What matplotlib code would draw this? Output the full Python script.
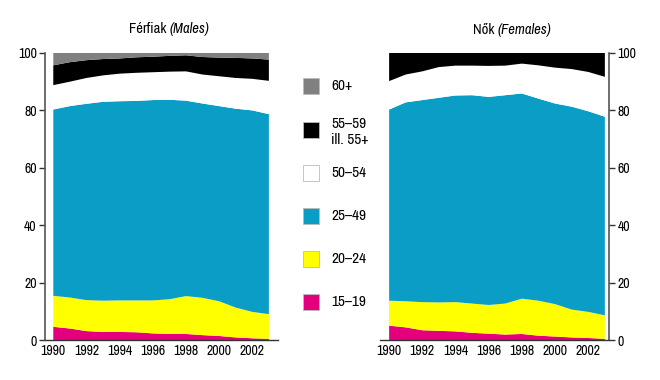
import matplotlib
matplotlib.use("Agg")
import matplotlib.pyplot as plt
from matplotlib import font_manager
from matplotlib.patches import Rectangle

names = {f.name for f in font_manager.fontManager.ttflist}
fam = "DejaVu Sans"
for cand in ["Archivo Narrow", "Roboto Condensed", "PT Sans Narrow", "Fira Sans Condensed",
             "IBM Plex Sans Condensed", "Barlow Semi Condensed", "Pragati Narrow",
             "Liberation Sans Narrow"]:
    if cand in names:
        fam = cand
        break
plt.rcParams["font.family"] = [fam, "DejaVu Sans"]

years = list(range(1990, 2004))

# Males: share of each age group (%)
m_15_19 = [4.6, 4.0, 3.1, 2.8, 2.8, 2.7, 2.3, 2.1, 2.1, 1.7, 1.4, 0.9, 0.6, 0.4]
m_20_24 = [10.8, 10.8, 10.8, 10.9, 11.0, 11.1, 11.5, 12.1, 13.2, 13.0, 12.1, 10.4, 9.2, 8.6]
m_25_49 = [64.9, 66.7, 68.4, 69.3, 69.4, 69.5, 69.8, 69.5, 68.1, 67.7, 68.0, 69.3, 70.2, 69.7]
m_50_54 = [8.5, 8.5, 9.0, 9.2, 9.6, 9.8, 9.7, 9.8, 10.2, 10.1, 10.4, 10.7, 11.0, 11.6]
m_55_59 = [6.9, 6.8, 6.2, 5.7, 5.3, 5.4, 5.4, 5.5, 5.6, 6.1, 6.5, 7.0, 7.1, 7.4]
m_60p = [4.3, 3.2, 2.5, 2.1, 1.9, 1.5, 1.3, 1.0, 0.8, 1.4, 1.6, 1.7, 1.9, 2.3]

# Females: share of each age group (%)
f_15_19 = [5.0, 4.4, 3.4, 3.2, 3.0, 2.5, 2.2, 1.9, 2.1, 1.5, 1.2, 0.9, 0.7, 0.4]
f_20_24 = [8.7, 9.1, 9.8, 9.9, 10.2, 10.2, 10.0, 10.8, 12.3, 12.2, 11.3, 9.7, 9.1, 8.2]
f_25_49 = [66.6, 69.3, 70.4, 71.3, 72.0, 72.6, 72.5, 72.6, 71.5, 70.4, 69.9, 70.7, 69.9, 69.2]
f_50_54 = [9.9, 9.7, 10.0, 10.7, 10.4, 10.3, 10.8, 10.3, 10.4, 11.6, 12.5, 13.1, 13.7, 13.9]
f_55p = [9.8, 7.5, 6.4, 4.9, 4.4, 4.4, 4.5, 4.4, 3.7, 4.3, 5.1, 5.6, 6.6, 8.3]

legend_labels = ["60+", "55–59\nill. 55+", "50–54", "25–49", "20–24", "15–19"]
xticks = [1990, 1992, 1994, 1996, 1998, 2000, 2002]
yticks = [0, 20, 40, 60, 80, 100]

c_pink = "#e4007d"
c_yellow = "#ffff00"
c_blue = "#0a9dc6"
c_white = "#ffffff"
c_black = "#000000"
c_gray = "#808080"
legend_colors = [c_gray, c_black, c_white, c_blue, c_yellow, c_pink]

W, H = 660, 380
fig = plt.figure(figsize=(6.6, 3.8), dpi=100)

def ax_rect(x0, x1, ytop, ybot):
    return [x0 / W, 1 - ybot / H, (x1 - x0) / W, (ybot - ytop) / H]

axL = fig.add_axes(ax_rect(45, 278, 53, 340))
axR = fig.add_axes(ax_rect(380, 609, 53, 340))

axL.stackplot(years, m_15_19, m_20_24, m_25_49, m_50_54, m_55_59, m_60p,
              colors=[c_pink, c_yellow, c_blue, c_white, c_black, c_gray], linewidth=0)
axR.stackplot(years, f_15_19, f_20_24, f_25_49, f_50_54, f_55p,
              colors=[c_pink, c_yellow, c_blue, c_white, c_black], linewidth=0)

axL.set_xlim(1989.5, 2003.55)
axR.set_xlim(1989.45, 2003.25)

for ax, side in ((axL, "left"), (axR, "right")):
    ax.set_ylim(0, 100)
    ax.set_yticks(yticks)
    ax.set_xticks(xticks)
    for s in ax.spines.values():
        s.set_visible(False)
    ax.spines["bottom"].set_visible(True)
    ax.spines[side].set_visible(True)
    ax.spines["bottom"].set_color("#333333")
    ax.spines[side].set_color("#555555")
    ax.spines["bottom"].set_linewidth(1.0)
    ax.spines[side].set_linewidth(1.2)
    ax.tick_params(axis="x", length=0, pad=3, labelsize=10)
    ax.tick_params(axis="y", length=4, width=1, color="#333333", labelsize=10, pad=2)
    if side == "right":
        ax.yaxis.tick_right()
    ax.set_facecolor("white")

def two_part_title(xc, y, a, b, fs=10.5):
    t1 = fig.text(0, 0, a, fontsize=fs)
    t2 = fig.text(0, 0, b, fontsize=fs, style="italic")
    fig.canvas.draw()
    r = fig.canvas.get_renderer()
    w1 = t1.get_window_extent(r).width
    w2 = t2.get_window_extent(r).width
    x0 = xc - (w1 + w2) / 2
    t1.set_position((x0 / W, 1 - y / H))
    t2.set_position(((x0 + w1) / W, 1 - y / H))
    t1.set_va("center"); t2.set_va("center")

two_part_title(169, 29, "Férfiak ", "(Males)")
two_part_title(512, 30, "Nők ", "(Females)")

legend_y = [86, 130, 173, 216, 259, 302]
for lab, col, yc in zip(legend_labels, legend_colors, legend_y):
    sq = 16
    fig.add_artist(Rectangle((303 / W, 1 - (yc + sq / 2) / H), sq / W, sq / H,
                             transform=fig.transFigure, facecolor=col,
                             edgecolor="#bbbbbb", linewidth=0.6))
    ty = yc + 2 if "\n" in lab else yc
    fig.text(331 / W, 1 - ty / H, lab, fontsize=11, va="center", ha="left",
             linespacing=1.1)

fig.savefig("out.png", dpi=100)
